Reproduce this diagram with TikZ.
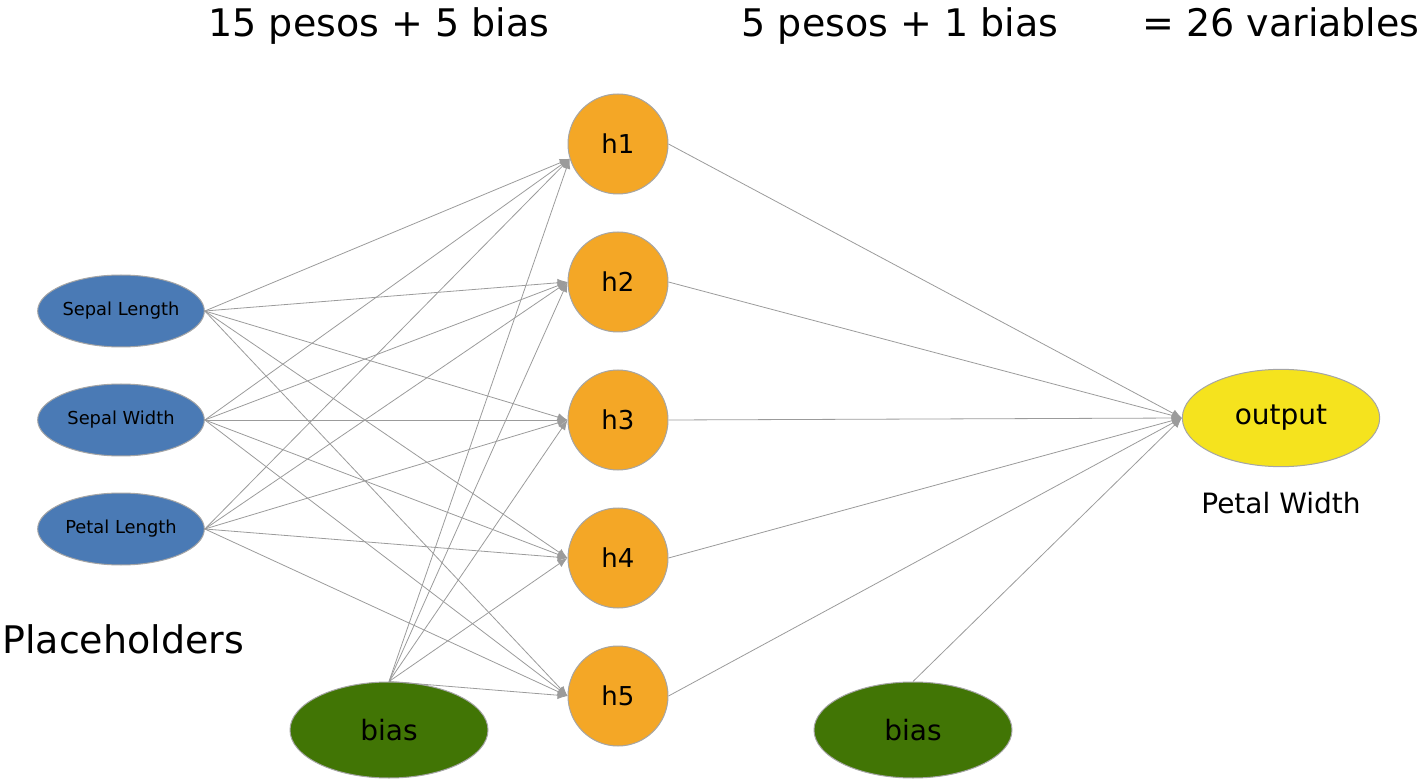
\documentclass[tikz,border=0pt]{standalone}
\usepackage{fontspec}
\setmainfont{DejaVu Sans}
\usetikzlibrary{shapes.geometric,arrows.meta}

\begin{document}
\begin{tikzpicture}[x=0.75pt,y=0.75pt,yscale=-1,xscale=1,
  rim/.style={draw={rgb, 255:red, 165; green, 165; blue, 165 },line width=0.75pt,inner sep=0pt},
  inputnode/.style={rim,ellipse,fill={rgb, 255:red, 74; green, 122; blue, 181 },minimum width=125pt,minimum height=54pt,font=\fontsize{13.4}{16}\selectfont},
  hiddennode/.style={rim,circle,fill={rgb, 255:red, 244; green, 167; blue, 38 },minimum size=75pt,font=\fontsize{19.5}{22}\selectfont},
  biasnode/.style={rim,ellipse,fill={rgb, 255:red, 65; green, 117; blue, 5 },minimum width=148.5pt,minimum height=72pt,font=\fontsize{21}{24}\selectfont},
  outnode/.style={rim,ellipse,fill={rgb, 255:red, 245; green, 227; blue, 30 },minimum width=148pt,minimum height=73pt,font=\fontsize{21}{24}\selectfont},
  wire/.style={draw={rgb, 255:red, 155; green, 155; blue, 155 },line width=0.6pt,-{Latex[length=7.5pt,width=6pt]}},
  title/.style={anchor=base,inner sep=0.75pt,font=\fontsize{28.5}{34}\selectfont}]
\useasboundingbox (0,0) rectangle (1421,780);

%Shape: Ellipse [inputs]
\node [inputnode] (sl) at (121,311) {Sepal Length};
\node [inputnode] (sw) at (121,420) {Sepal Width};
\node [inputnode] (pl) at (121,529) {Petal Length};
%Shape: Circle [hidden layer]
\node [hiddennode] (h1) at (618,144) {h1};
\node [hiddennode] (h2) at (618,282) {h2};
\node [hiddennode] (h3) at (618,420) {h3};
\node [hiddennode] (h4) at (618,558) {h4};
\node [hiddennode] (h5) at (618,696) {h5};
%Shape: Ellipse [bias]
\node [biasnode] (b1) at (389,730) {bias};
\node [biasnode] (b2) at (913,730) {bias};
%Shape: Ellipse [output]
\node [outnode] (out) at (1281,418) {output};

%Straight Lines [inputs to hidden]
\draw [wire] (sl.east) -- (h1.197);
\draw [wire] (sl.east) -- (h2.west);
\draw [wire] (sl.east) -- (h3.west);
\draw [wire] (sl.east) -- (h4.west);
\draw [wire] (sl.east) -- (h5.west);
\draw [wire] (sw.east) -- (h1.197);
\draw [wire] (sw.east) -- (h2.west);
\draw [wire] (sw.east) -- (h3.west);
\draw [wire] (sw.east) -- (h4.west);
\draw [wire] (sw.east) -- (h5.west);
\draw [wire] (pl.east) -- (h1.197);
\draw [wire] (pl.east) -- (h2.west);
\draw [wire] (pl.east) -- (h3.west);
\draw [wire] (pl.east) -- (h4.west);
\draw [wire] (pl.east) -- (h5.west);
%Straight Lines [bias to hidden]
\draw [wire] (b1.north) -- (h1.197);
\draw [wire] (b1.north) -- (h2.west);
\draw [wire] (b1.north) -- (h3.west);
\draw [wire] (b1.north) -- (h4.west);
\draw [wire] (b1.north) -- (h5.west);
%Straight Lines [hidden to output]
\draw [wire] (h1.east) -- (out.west);
\draw [wire] (h2.east) -- (out.west);
\draw [wire] (h3.east) -- (out.west);
\draw [wire] (h4.east) -- (out.west);
\draw [wire] (h5.east) -- (out.west);
\draw [wire] (b2.north) -- (out.west);

% Text Node
\node [title] (t1) at (379,37) {15 pesos + 5 bias};
% Text Node
\node [title] (t2) at (900,37) {5 pesos + 1 bias};
% Text Node
\node [title] (t3) at (1281,37) {= 26 variables};
% Text Node
\node [anchor=base west,inner sep=0pt,font=\fontsize{28.5}{34}\selectfont] (ph) at (2,653) {Placeholders};
% Text Node
\node [anchor=base,inner sep=0.75pt,font=\fontsize{21}{24}\selectfont] (pw) at (1281,513) {Petal Width};

\end{tikzpicture}
\end{document}
